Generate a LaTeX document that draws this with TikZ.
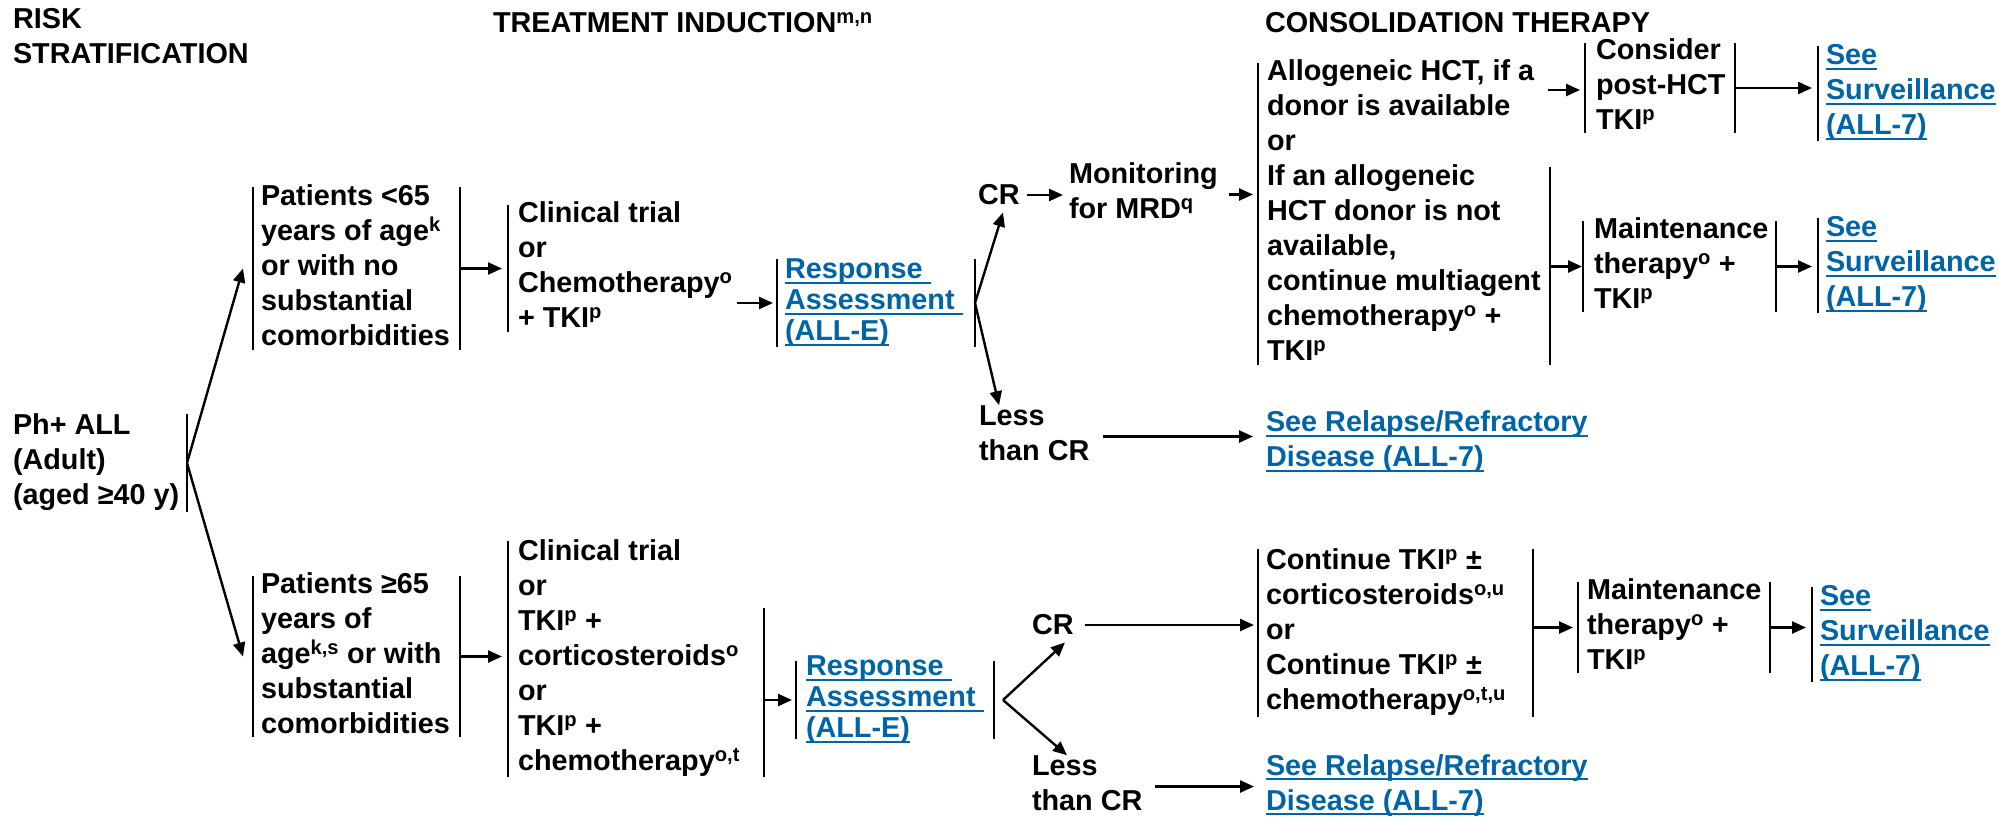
\documentclass[tikz,border=0pt]{standalone}
\usepackage{fontspec}
\setmainfont{Liberation Sans}
\usetikzlibrary{arrows.meta,calc}
\definecolor{linkblue}{RGB}{0,101,166}
\newcommand\mystrut{\rule[-0.22\baselineskip]{0pt}{\baselineskip}}
\newsavebox\lkbox
\newcommand\lk[1]{\sbox\lkbox{#1}\rlap{\rule[-5pt]{\wd\lkbox}{1.6pt}}\usebox\lkbox}
\tikzset{
  txt/.style={inner sep=0pt, outer sep=0pt, align=left, anchor=west,
    font=\bfseries\fontsize{28.8}{35}\selectfont,
    execute at begin node=\mystrut, execute at end node=\mystrut},
  lnk/.style={txt, text=linkblue},
  tight/.style={font=\bfseries\fontsize{28.8}{31}\selectfont},
  bxf/.style={inner sep=0pt, outer sep=0pt, draw=none},
  bar/.style={line width=2.4pt},
  arr/.style={line width=2.4pt, -{Triangle[length=14pt,width=12pt]}},
}
\begin{document}
\begin{tikzpicture}[x=1pt,y=-1pt]
\fill[white] (0,0) rectangle (1999,817);
\useasboundingbox (0,0) rectangle (1999,817);

% headers
\node[txt] (hrisk) at (13,39.5) {RISK\\STRATIFICATION};
\node[txt] (hind) at (493,23) {TREATMENT INDUCTION\textsuperscript{m,n}};
\node[txt] (hcons) at (1265,23) {CONSOLIDATION THERAPY};

% frames
\node[bxf, minimum width=174pt, minimum height=98pt] (ph) at (100,463) {};
\node[bxf, minimum width=207pt, minimum height=163pt] (p1) at (356.5,268.5) {};
\node[bxf, minimum width=229pt, minimum height=127pt] (c1) at (622.5,268.5) {};
\node[bxf, minimum width=198pt, minimum height=88pt] (r1) at (876,303) {};
\node[bxf, minimum width=292pt, minimum height=302pt] (cons) at (1404,214) {};
\node[bxf, minimum width=150pt, minimum height=90pt] (con) at (1660,88) {};
\node[bxf, minimum width=175pt, minimum height=95pt] (sv1) at (1905.5,93.5) {};
\node[bxf, minimum width=193pt, minimum height=91pt] (mt1) at (1679.5,266.5) {};
\node[bxf, minimum width=175pt, minimum height=95pt] (sv2) at (1905.5,265.5) {};
\node[bxf, minimum width=207pt, minimum height=161pt] (p2) at (356.5,656.5) {};
\node[bxf, minimum width=256pt, minimum height=236pt] (c2) at (636,659) {};
\node[bxf, minimum width=198pt, minimum height=78pt] (r2) at (895,700) {};
\node[bxf, minimum width=275pt, minimum height=168pt] (cont) at (1395.5,633) {};
\node[bxf, minimum width=192pt, minimum height=91pt] (mt2) at (1674,627.5) {};
\node[bxf, minimum width=175pt, minimum height=95pt] (sv3) at (1899.5,634.5) {};

% texts in frames
\node[txt] (pht) at (ph.west) {Ph+ ALL\\(Adult)\\(aged ≥40 y)};
\node[txt] (p1t) at ([xshift=8pt]p1.west) {Patients <65\\years of age\textsuperscript{k}\\or with no\\substantial\\comorbidities};
\node[txt] (c1t) at ([xshift=10pt]c1.west) {Clinical trial\\or\\Chemotherapy\textsuperscript{o}\\+ TKI\textsuperscript{p}};
\node[lnk, tight] (r1t) at ([xshift=8pt]r1.west) {\lk{Response~}\\\lk{Assessment~}\\\lk{(ALL-E)}};
\node[txt] (const) at ([xshift=9pt]cons.west) {Allogeneic HCT, if a\\donor is available\\or\\If an allogeneic\\HCT donor is not\\available,\\continue multiagent\\chemotherapy\textsuperscript{o} +\\TKI\textsuperscript{p}};
\node[txt] (cont1) at ([xshift=11pt]con.west) {Consider\\post-HCT\\TKI\textsuperscript{p}};
\node[lnk] (sv1t) at ([xshift=8pt]sv1.west) {\lk{See}\\\lk{Surveillance}\\\lk{(ALL-7)}};
\node[txt] (mt1t) at ([xshift=11pt]mt1.west) {Maintenance\\therapy\textsuperscript{o} +\\TKI\textsuperscript{p}};
\node[lnk] (sv2t) at ([xshift=8pt]sv2.west) {\lk{See}\\\lk{Surveillance}\\\lk{(ALL-7)}};
\node[txt] (p2t) at ([xshift=8pt]p2.west) {Patients ≥65\\years of\\age\textsuperscript{k,s} or with\\substantial\\comorbidities};
\node[txt] (c2t) at ([xshift=10pt]c2.west) {Clinical trial\\or\\TKI\textsuperscript{p} +\\corticosteroids\textsuperscript{o}\\or\\TKI\textsuperscript{p} +\\chemotherapy\textsuperscript{o,t}};
\node[lnk, tight] (r2t) at ([xshift=10pt]r2.west) {\lk{Response~}\\\lk{Assessment~}\\\lk{(ALL-E)}};
\node[txt] (contt) at ([xshift=8pt]cont.west) {Continue TKI\textsuperscript{p} ±\\corticosteroids\textsuperscript{o,u}\\or\\Continue TKI\textsuperscript{p} ±\\chemotherapy\textsuperscript{o,t,u}};
\node[txt] (mt2t) at ([xshift=9pt]mt2.west) {Maintenance\\therapy\textsuperscript{o} +\\TKI\textsuperscript{p}};
\node[lnk] (sv3t) at ([xshift=8pt]sv3.west) {\lk{See}\\\lk{Surveillance}\\\lk{(ALL-7)}};

% free text nodes
\node[txt] (cr1) at (978,195) {CR};
\node[txt] (mon) at (1069,194.5) {Monitoring\\for MRD\textsuperscript{q}};
\node[txt] (ls1) at (979,436.5) {Less\\than CR};
\node[lnk] (rel1) at (1266,442.5) {\lk{See Relapse/Refractory}\\\lk{Disease (ALL-7)}};
\node[txt] (cr2) at (1032,625) {CR};
\node[txt] (ls2) at (1032,786.5) {Less\\than CR};
\node[lnk] (rel2) at (1266,786) {\lk{See Relapse/Refractory}\\\lk{Disease (ALL-7)}};
\coordinate (alloend) at (1548,90);

% bars
\draw[bar] (ph.north east) -- (ph.south east);
\draw[bar] (p1.north west) -- (p1.south west) (p1.north east) -- (p1.south east);
\draw[bar] (c1.north west) -- (c1.south west);
\draw[bar] (r1.north west) -- (r1.south west) (r1.north east) -- (r1.south east);
\draw[bar] (cons.north west) -- (cons.south west) (cons.south east) -- (cons.east |- 0,167);
\draw[bar] (con.north west) -- (con.south west) (con.north east) -- (con.south east);
\draw[bar] (sv1.north west) -- (sv1.south west);
\draw[bar] (mt1.north west) -- (mt1.south west) (mt1.north east) -- (mt1.south east);
\draw[bar] (sv2.north west) -- (sv2.south west);
\draw[bar] (p2.north west) -- (p2.south west) (p2.north east) -- (p2.south east);
\draw[bar] (c2.north west) -- (c2.south west) (c2.south east) -- (c2.east |- 0,608);
\draw[bar] (r2.north west) -- (r2.south west) (r2.north east) -- (r2.south east);
\draw[bar] (cont.north west) -- (cont.south west) (cont.north east) -- (cont.south east);
\draw[bar] (mt2.north west) -- (mt2.south west) (mt2.north east) -- (mt2.south east);
\draw[bar] (sv3.north west) -- (sv3.south west);

% connectors
\draw[arr] (ph.east) -- ([xshift=-10pt]p1.west);
\draw[arr] (ph.east) -- ([xshift=-10pt]p2.west);
\draw[arr, shorten >=6pt] (p1.east) -- (c1.west);
\draw[arr, shorten >=4pt] (c1.east |- r1.west) -- (r1.west);
\draw[arr] (r1.east) -- ([xshift=25pt]cr1.south west);
\draw[arr] (r1.east) -- ([xshift=20pt]ls1.north west);
\draw[arr, shorten <=7pt, shorten >=6pt] (cr1.east) -- (cr1.east -| mon.west);
\draw[arr, shorten <=11pt, shorten >=5pt] (mon.east) -- (mon.east -| cons.west);
\draw[arr, shorten >=5pt] (alloend) -- (alloend -| con.west);
\draw[arr, shorten >=1pt] (mt1.west -| cons.east) -- (mt1.west);
\draw[arr, shorten >=6pt] (con.east) -- (con.east -| sv1.west);
\draw[arr, shorten >=6pt] (mt1.east) -- (mt1.east -| sv2.west);
\draw[arr, shorten <=14pt, shorten >=13pt] (ls1.east) -- (ls1.east -| rel1.west);
\draw[arr, shorten >=6pt] (p2.east) -- (p2.east -| c2.west);
\draw[arr, shorten >=4pt] (r2.west -| c2.east) -- (r2.west);
\draw[arr] ([xshift=9pt]r2.east) -- ([xshift=33pt]cr2.south west);
\draw[arr] ([xshift=9pt]r2.east) -- ([xshift=35pt]ls2.north west);
\draw[arr, shorten <=11pt, shorten >=4pt] (cr2.east) -- (cr2.east -| cont.west);
\draw[arr, shorten <=13pt, shorten >=12pt] (ls2.east) -- (ls2.east -| rel2.west);
\draw[arr, shorten >=5pt] (mt2.west -| cont.east) -- (mt2.west);
\draw[arr, shorten >=6pt] (mt2.east) -- (mt2.east -| sv3.west);
\end{tikzpicture}
\end{document}
